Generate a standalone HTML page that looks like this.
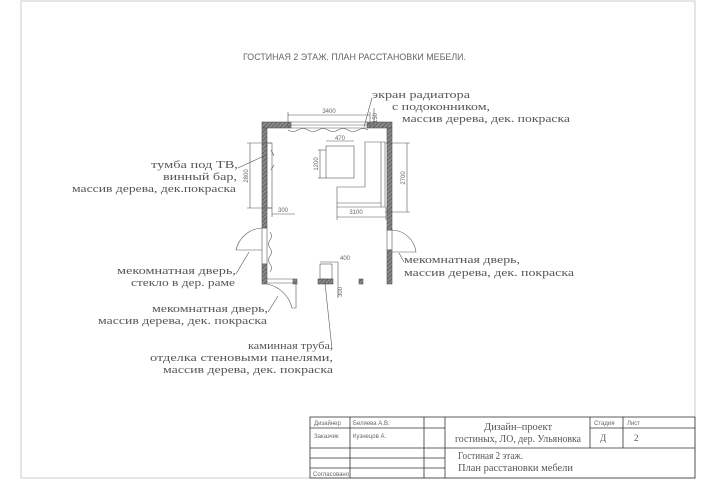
<!DOCTYPE html>
<html><head><meta charset="utf-8"><style>
html,body{margin:0;padding:0;background:#fff;}
svg{display:block;}
.t{font-family:"Liberation Serif","DejaVu Serif",serif;font-size:10.5px;fill:#555;}
.s{font-family:"Liberation Sans",sans-serif;font-size:6px;fill:#666;}
.d{font-family:"Liberation Sans",sans-serif;font-size:6px;fill:#666;}
</style></head><body>
<svg width="720" height="480" viewBox="0 0 720 480" xmlns="http://www.w3.org/2000/svg">
<defs>
<pattern id="h" width="3" height="3" patternUnits="userSpaceOnUse" patternTransform="rotate(45)">
<rect width="3" height="3" fill="#888"/><line x1="0" y1="0" x2="0" y2="3" stroke="#444" stroke-width="1"/>
</pattern>
</defs>
<rect x="21" y="1" width="674" height="477" fill="none" stroke="#ccc" stroke-width="1"/>
<text x="243" y="60" textLength="223" lengthAdjust="spacingAndGlyphs" font-family="Liberation Sans, sans-serif" font-size="9" fill="#666">ГОСТИНАЯ 2 ЭТАЖ. ПЛАН РАССТАНОВКИ МЕБЕЛИ.</text>

<g stroke="#555" stroke-width="0.6" fill="none">
<rect x="262" y="122" width="29" height="6" fill="url(#h)"/>
<rect x="367" y="122" width="25" height="6" fill="url(#h)"/>
<line x1="291" y1="122" x2="367" y2="122"/><line x1="291" y1="125" x2="367" y2="125"/><line x1="291" y1="128" x2="367" y2="128"/>
<path d="M288 130 q5 3 10 0 t10 0 t10 0 t10 0 t10 0 t10 0 t10 0 t10 0"/>
<rect x="262" y="128" width="5" height="100" fill="url(#h)"/>
<rect x="262" y="228" width="5" height="36"/>
<rect x="262" y="264" width="5" height="20" fill="url(#h)"/>
<rect x="387" y="128" width="5" height="102" fill="url(#h)"/>
<rect x="387" y="230" width="5" height="20"/>
<rect x="387" y="250" width="5" height="34" fill="url(#h)"/>
<line x1="267" y1="279" x2="293" y2="279"/><line x1="267" y1="283" x2="293" y2="283"/>
<rect x="293" y="279" width="4" height="5" fill="url(#h)"/>
<rect x="318" y="279" width="15" height="5" fill="url(#h)"/>
<rect x="359" y="279" width="4" height="5" fill="url(#h)"/>
<path d="M262 228 A 28 28 0 0 0 236 250 L262 250"/>
<path d="M267 284 A 32 32 0 0 1 292 308 L296 308 L296 284"/>
<path d="M392 230 A 25 25 0 0 1 416 252 L392 252"/>
<path d="M270 232 q3 4 0 8 t0 8 t0 8 t0 8 t0 8"/>
<rect x="267" y="143" width="5" height="65"/>
<path d="M271 150 l3 6 M271 170 l3 -5"/>
<rect x="326" y="146" width="28" height="32"/>
<path d="M365 142 H385 V207 H337 V187 H365 Z"/>
<line x1="381" y1="142" x2="381" y2="207"/>
<line x1="337" y1="203" x2="381" y2="203"/>
<rect x="320" y="264" width="12" height="15"/>
<line x1="288" y1="115" x2="370" y2="115"/><line x1="288" y1="112" x2="288" y2="128"/><line x1="370" y1="112" x2="370" y2="128"/>
<line x1="374" y1="108" x2="374" y2="128"/>
<line x1="250" y1="143" x2="250" y2="208"/><line x1="247" y1="143" x2="272" y2="143"/><line x1="247" y1="208" x2="272" y2="208"/>
<line x1="320" y1="150" x2="320" y2="178"/><line x1="318" y1="150" x2="326" y2="150"/><line x1="318" y1="178" x2="326" y2="178"/>
<line x1="326" y1="141" x2="354" y2="141"/>
<line x1="407" y1="143" x2="407" y2="212"/><line x1="385" y1="143" x2="410" y2="143"/><line x1="385" y1="212" x2="410" y2="212"/>
<line x1="337" y1="217" x2="386" y2="217"/><line x1="337" y1="207" x2="337" y2="220"/><line x1="386" y1="207" x2="386" y2="220"/>
<line x1="272" y1="214" x2="295" y2="214"/><line x1="272" y1="208" x2="272" y2="217"/>
<line x1="320" y1="262" x2="338" y2="262"/><line x1="338" y1="262" x2="338" y2="298"/>
<line x1="238" y1="168" x2="266" y2="155"/>
<line x1="236" y1="274" x2="249" y2="252"/>
<line x1="268" y1="312" x2="278" y2="296"/>
<line x1="332" y1="349" x2="325" y2="283"/>
<line x1="372" y1="98" x2="364" y2="127"/>
<line x1="404" y1="262" x2="399" y2="253"/>
</g>
<text class="d" x="329" y="113" text-anchor="middle">3400</text>
<text class="d" x="340" y="140" text-anchor="middle">470</text>
<text class="d" x="356" y="214" text-anchor="middle">3100</text>
<text class="d" x="283" y="212" text-anchor="middle">300</text>
<text class="d" x="340" y="260">400</text>
<text class="d" transform="translate(248,176) rotate(-90)" text-anchor="middle">2800</text>
<text class="d" transform="translate(318,164) rotate(-90)" text-anchor="middle">1200</text>
<text class="d" transform="translate(405,178) rotate(-90)" text-anchor="middle">2700</text>
<text class="d" transform="translate(342,292) rotate(-90)" text-anchor="middle">300</text>
<text class="d" transform="translate(377,118) rotate(-90)" text-anchor="middle">150</text>

<text class="t" x="151" y="168" textLength="87" lengthAdjust="spacingAndGlyphs">тумба под ТВ,</text>
<text class="t" x="163" y="180" textLength="74" lengthAdjust="spacingAndGlyphs">винный бар,</text>
<text class="t" x="72" y="192" textLength="164" lengthAdjust="spacingAndGlyphs">массив дерева, дек.покраска</text>
<text class="t" x="117" y="274" textLength="119" lengthAdjust="spacingAndGlyphs">мекомнатная дверь,</text>
<text class="t" x="131" y="286" textLength="104" lengthAdjust="spacingAndGlyphs">стекло в дер. раме</text>
<text class="t" x="152" y="312" textLength="116" lengthAdjust="spacingAndGlyphs">мекомнатная дверь,</text>
<text class="t" x="98" y="324" textLength="169" lengthAdjust="spacingAndGlyphs">массив дерева, дек. покраска</text>
<text class="t" x="248" y="349" textLength="85" lengthAdjust="spacingAndGlyphs">каминная труба,</text>
<text class="t" x="150" y="361" textLength="183" lengthAdjust="spacingAndGlyphs">отделка стеновыми панелями,</text>
<text class="t" x="163" y="373" textLength="170" lengthAdjust="spacingAndGlyphs">массив дерева, дек. покраска</text>
<text class="t" x="372" y="98" textLength="98" lengthAdjust="spacingAndGlyphs">экран радиатора</text>
<text class="t" x="392" y="110" textLength="98" lengthAdjust="spacingAndGlyphs">с подоконником,</text>
<text class="t" x="402" y="122" textLength="168" lengthAdjust="spacingAndGlyphs">массив дерева, дек. покраска</text>
<text class="t" x="404" y="263" textLength="116" lengthAdjust="spacingAndGlyphs">мекомнатная дверь,</text>
<text class="t" x="404" y="276" textLength="170" lengthAdjust="spacingAndGlyphs">массив дерева, дек. покраска</text>

<g stroke="#333" stroke-width="0.8" fill="none">
<rect x="310" y="417" width="385" height="61"/>
<line x1="350" y1="417" x2="350" y2="478"/>
<line x1="424" y1="417" x2="424" y2="478"/>
<line x1="445" y1="417" x2="445" y2="478"/>
<line x1="590" y1="417" x2="590" y2="448"/>
<line x1="623" y1="417" x2="623" y2="448"/>
<line x1="310" y1="428" x2="445" y2="428"/>
<line x1="590" y1="428" x2="695" y2="428"/>
<line x1="310" y1="448" x2="695" y2="448"/>
<line x1="310" y1="458" x2="445" y2="458"/>
<line x1="310" y1="468" x2="445" y2="468"/>
</g>
<text class="s" x="314" y="425">Дизайнер</text>
<text class="s" x="353" y="425">Беляева А.В.</text>
<text class="s" x="314" y="438">Заказчик</text>
<text class="s" x="353" y="438">Кузнецов А.</text>
<text class="s" x="313" y="476">Согласовано</text>
<text class="s" x="594" y="425">Стадия</text>
<text class="s" x="627" y="425">Лист</text>
<text class="t" x="600" y="441" style="font-size:9px">Д</text>
<text class="t" x="634" y="441" style="font-size:9px">2</text>
<text class="t" x="484" y="430" textLength="68" lengthAdjust="spacingAndGlyphs">Дизайн–проект</text>
<text class="t" x="455" y="442" textLength="126" lengthAdjust="spacingAndGlyphs">гостиных, ЛО, дер. Ульяновка</text>
<text class="t" x="458" y="459" textLength="65" lengthAdjust="spacingAndGlyphs">Гостиная 2 этаж.</text>
<text class="t" x="458" y="471" textLength="115" lengthAdjust="spacingAndGlyphs">План расстановки мебели</text>
</svg>
</body></html>
